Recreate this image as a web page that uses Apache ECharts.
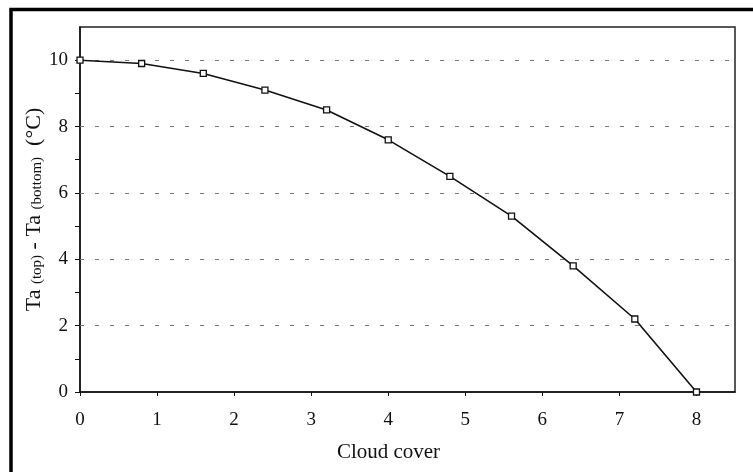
<!DOCTYPE html>
<html>
<head>
<meta charset="utf-8">
<script src="https://cdn.jsdelivr.net/npm/echarts@6/dist/echarts.min.js"></script>
<style>
  html, body { margin: 0; padding: 0; background: #fff; }
  #chart { width: 753px; height: 472px; }
</style>
</head>
<body>
<div id="chart"></div>
<script>
// Temperature difference between top and bottom vs. cloud cover (oktas)
const cloudCover = [0, 0.8, 1.6, 2.4, 3.2, 4.0, 4.8, 5.6, 6.4, 7.2, 8.0];
const tempDiff   = [10, 9.9, 9.6, 9.1, 8.5, 7.6, 6.5, 5.3, 3.8, 2.2, 0];

const xTicks = [0, 1, 2, 3, 4, 5, 6, 7, 8];
const yTicks = [0, 1, 2, 3, 4, 5, 6, 7, 8, 9, 10];
const yLabels = [0, 2, 4, 6, 8, 10];
const gridLevels = [2, 4, 6, 8, 10];

const serif = '"Liberation Serif", "Times New Roman", serif';

const chart = echarts.init(document.getElementById('chart'), null, { renderer: 'canvas' });

chart.setOption({
  animation: false,
  backgroundColor: '#fff',
  graphic: [{
    type: 'rect',
    shape: { x: 11, y: 9.5, width: 800, height: 520 },
    style: { fill: 'none', stroke: '#000', lineWidth: 3.5 },
    z: 100,
    silent: true
  }],
  grid: {
    left: 80, top: 27, right: 18, bottom: 80,
    show: true,
    borderColor: '#222',
    borderWidth: 1.5,
    backgroundColor: 'transparent'
  },
  xAxis: {
    type: 'value',
    min: 0, max: 8.5,
    name: 'Cloud cover',
    nameLocation: 'middle',
    nameGap: 50,
    nameMoveOverlap: false,
    nameTextStyle: { fontFamily: serif, fontSize: 21, color: '#111', padding: [0, 38, 0, 0] },
    axisLine: { show: true, onZero: false, lineStyle: { color: '#111', width: 1.5 } },
    axisTick: { show: true, inside: false, length: 4, customValues: xTicks, lineStyle: { color: '#111', width: 1 } },
    axisLabel: { customValues: xTicks, margin: 19, fontFamily: serif, fontSize: 19, color: '#111' },
    splitLine: { show: false }
  },
  yAxis: {
    type: 'value',
    min: 0, max: 11,
    name: '{m|Ta }{s|(top)}{m| - Ta }{s|(bottom)}{m|  (°C)}',
    nameLocation: 'middle',
    nameRotate: 90,
    nameGap: 35,
    nameMoveOverlap: false,
    nameTextStyle: {
      rich: {
        m: { fontFamily: serif, fontSize: 22, color: '#111', lineHeight: 25, verticalAlign: 'bottom' },
        s: { fontFamily: serif, fontSize: 15, color: '#111', lineHeight: 15, verticalAlign: 'bottom' }
      }
    },
    axisLine: { show: true, onZero: false, lineStyle: { color: '#111', width: 1.5 } },
    axisTick: { show: true, inside: false, length: 5, customValues: yTicks, lineStyle: { color: '#111', width: 1 } },
    axisLabel: { customValues: yLabels, margin: 12, fontFamily: serif, fontSize: 19, color: '#111' },
    splitLine: { show: false }
  },
  series: [{
    type: 'line',
    data: cloudCover.map((c, i) => [c, tempDiff[i]]),
    smooth: false,
    symbol: 'rect',
    symbolSize: 6,
    showAllSymbol: true,
    lineStyle: { color: '#111', width: 1.6 },
    itemStyle: { color: '#fff', borderColor: '#111', borderWidth: 1.3 },
    z: 3,
    markLine: {
      silent: true,
      symbol: ['none', 'none'],
      label: { show: false },
      lineStyle: { color: '#777', width: 1.2, type: [4, 11] },
      data: gridLevels.map(v => ({ yAxis: v })),
      z: 1
    }
  }]
});
</script>
</body>
</html>
